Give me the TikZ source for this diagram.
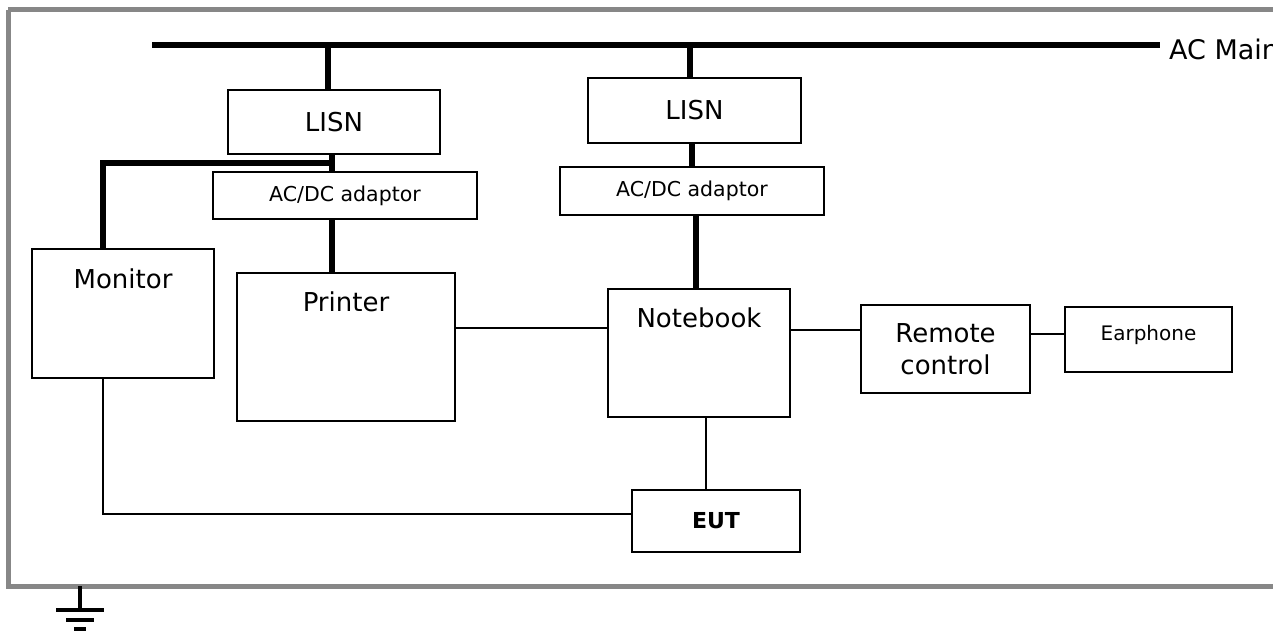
\documentclass[tikz,border=0pt]{standalone}
\usepackage{fontspec}
\setmainfont{DejaVu Sans}
\begin{document}
\begin{tikzpicture}[x=1pt,y=-1pt,
  box/.style={draw=black, line width=1.8pt, fill=white, inner sep=0pt},
  big/.style={font=\fontsize{26}{32}\selectfont},
  small/.style={font=\fontsize{20.5}{24}\selectfont},
  power/.style={line width=5.5pt},
  signal/.style={line width=1.8pt},
  frame/.style={draw=black!47, line width=5pt},
  earth/.style={line width=4pt}]
\useasboundingbox (0,0) rectangle (1273,630);
\clip (0,0) rectangle (1273,630);
\fill[white] (0,0) rectangle (1273,630);

% ground plane outline
\draw[frame] (8,9.5) -- (1300,9.5);
\draw[frame] (8,9.5) -- (8,586) -- (1300,586);

% mains bus
\coordinate (busL) at (152,45);
\coordinate (busR) at (1160,45);
\draw[power] (busL) -- (busR);
\node[font=\fontsize{27}{32}\selectfont, anchor=base west, inner sep=0pt] (acmain) at (1169,59) {AC Main};

% equipment
\node[box, minimum width=212pt, minimum height=64pt, big] (lisnA) at (334,122) {LISN};
\node[box, minimum width=213pt, minimum height=65pt, big] (lisnB) at (694.5,110.5) {LISN};
\node[box, minimum width=264pt, minimum height=47pt, small] (adA) at (345,195.5) {AC/DC adaptor};
\node[box, minimum width=264pt, minimum height=48pt, small] (adB) at (692,191) {AC/DC adaptor};
\node[box, minimum width=182pt, minimum height=129pt] (mon) at (123,313.5) {};
\node[box, minimum width=218pt, minimum height=148pt] (prn) at (346,347) {};
\node[box, minimum width=182pt, minimum height=128pt] (nb) at (699,353) {};
\node[box, minimum width=169pt, minimum height=88pt, big, align=center] (rc) at (945.5,349) {Remote\\control};
\node[box, minimum width=167pt, minimum height=65pt] (ear) at (1148.5,339.5) {};
\node[box, minimum width=168pt, minimum height=62pt, font=\fontsize{22}{26}\selectfont\bfseries] (eut) at (716,521) {EUT};

% captions set near the top of their boxes
\node[big, anchor=base, inner sep=0pt] (monT) at (123,288) {Monitor};
\node[big, anchor=base, inner sep=0pt] (prnT) at (346,311) {Printer};
\node[big, anchor=base, inner sep=0pt] (nbT) at (699,327) {Notebook};
\node[font=\fontsize{20}{24}\selectfont, anchor=base, inner sep=0pt] (earT) at (1148.5,340) {Earphone};

% power wiring, left branch
\coordinate (jA) at (332,163);
\draw[power] ([xshift=-6pt]lisnA.north) -- ([xshift=-6pt]lisnA.north |- busL);
\draw[power] (lisnA.south -| jA) -- (adA.north -| jA);
\draw[power] (adA.south -| jA) -- (prn.north -| jA);
\draw[power] ([xshift=2.75pt]jA) -| ([xshift=-20pt]mon.north);

% power wiring, right branch
\draw[power] ([xshift=-4.5pt]lisnB.north) -- ([xshift=-4.5pt]lisnB.north |- busL);
\draw[power] ([xshift=-2.5pt]lisnB.south) -- ([xshift=-2.5pt]lisnB.south |- adB.north);
\draw[power] ([xshift=4pt]adB.south) -- ([xshift=4pt]adB.south |- nb.north);

% signal cables
\draw[signal] ([yshift=19pt]prn.east) -- ([yshift=19pt]prn.east -| nb.west);
\draw[signal] ([yshift=23pt]nb.east) -- ([yshift=23pt]nb.east -| rc.west);
\draw[signal] ([yshift=15pt]rc.east) -- ([yshift=15pt]rc.east -| ear.west);
\draw[signal] ([xshift=7pt]nb.south) -- ([xshift=7pt]nb.south |- eut.north);
\draw[signal] ([xshift=-20pt]mon.south) |- ([yshift=7pt]eut.west);

% earth symbol
\coordinate (g0) at (80,586);
\coordinate (g1) at (80,610);
\draw[earth] (g0) -- (g1);
\draw[earth] ([xshift=-24pt]g1) -- ([xshift=24pt]g1);
\draw[earth] ([xshift=-14pt,yshift=-9.5pt]g1) -- ([xshift=14pt,yshift=-9.5pt]g1);
\draw[earth] ([xshift=-6pt,yshift=-19pt]g1) -- ([xshift=6pt,yshift=-19pt]g1);
\end{tikzpicture}
\end{document}
